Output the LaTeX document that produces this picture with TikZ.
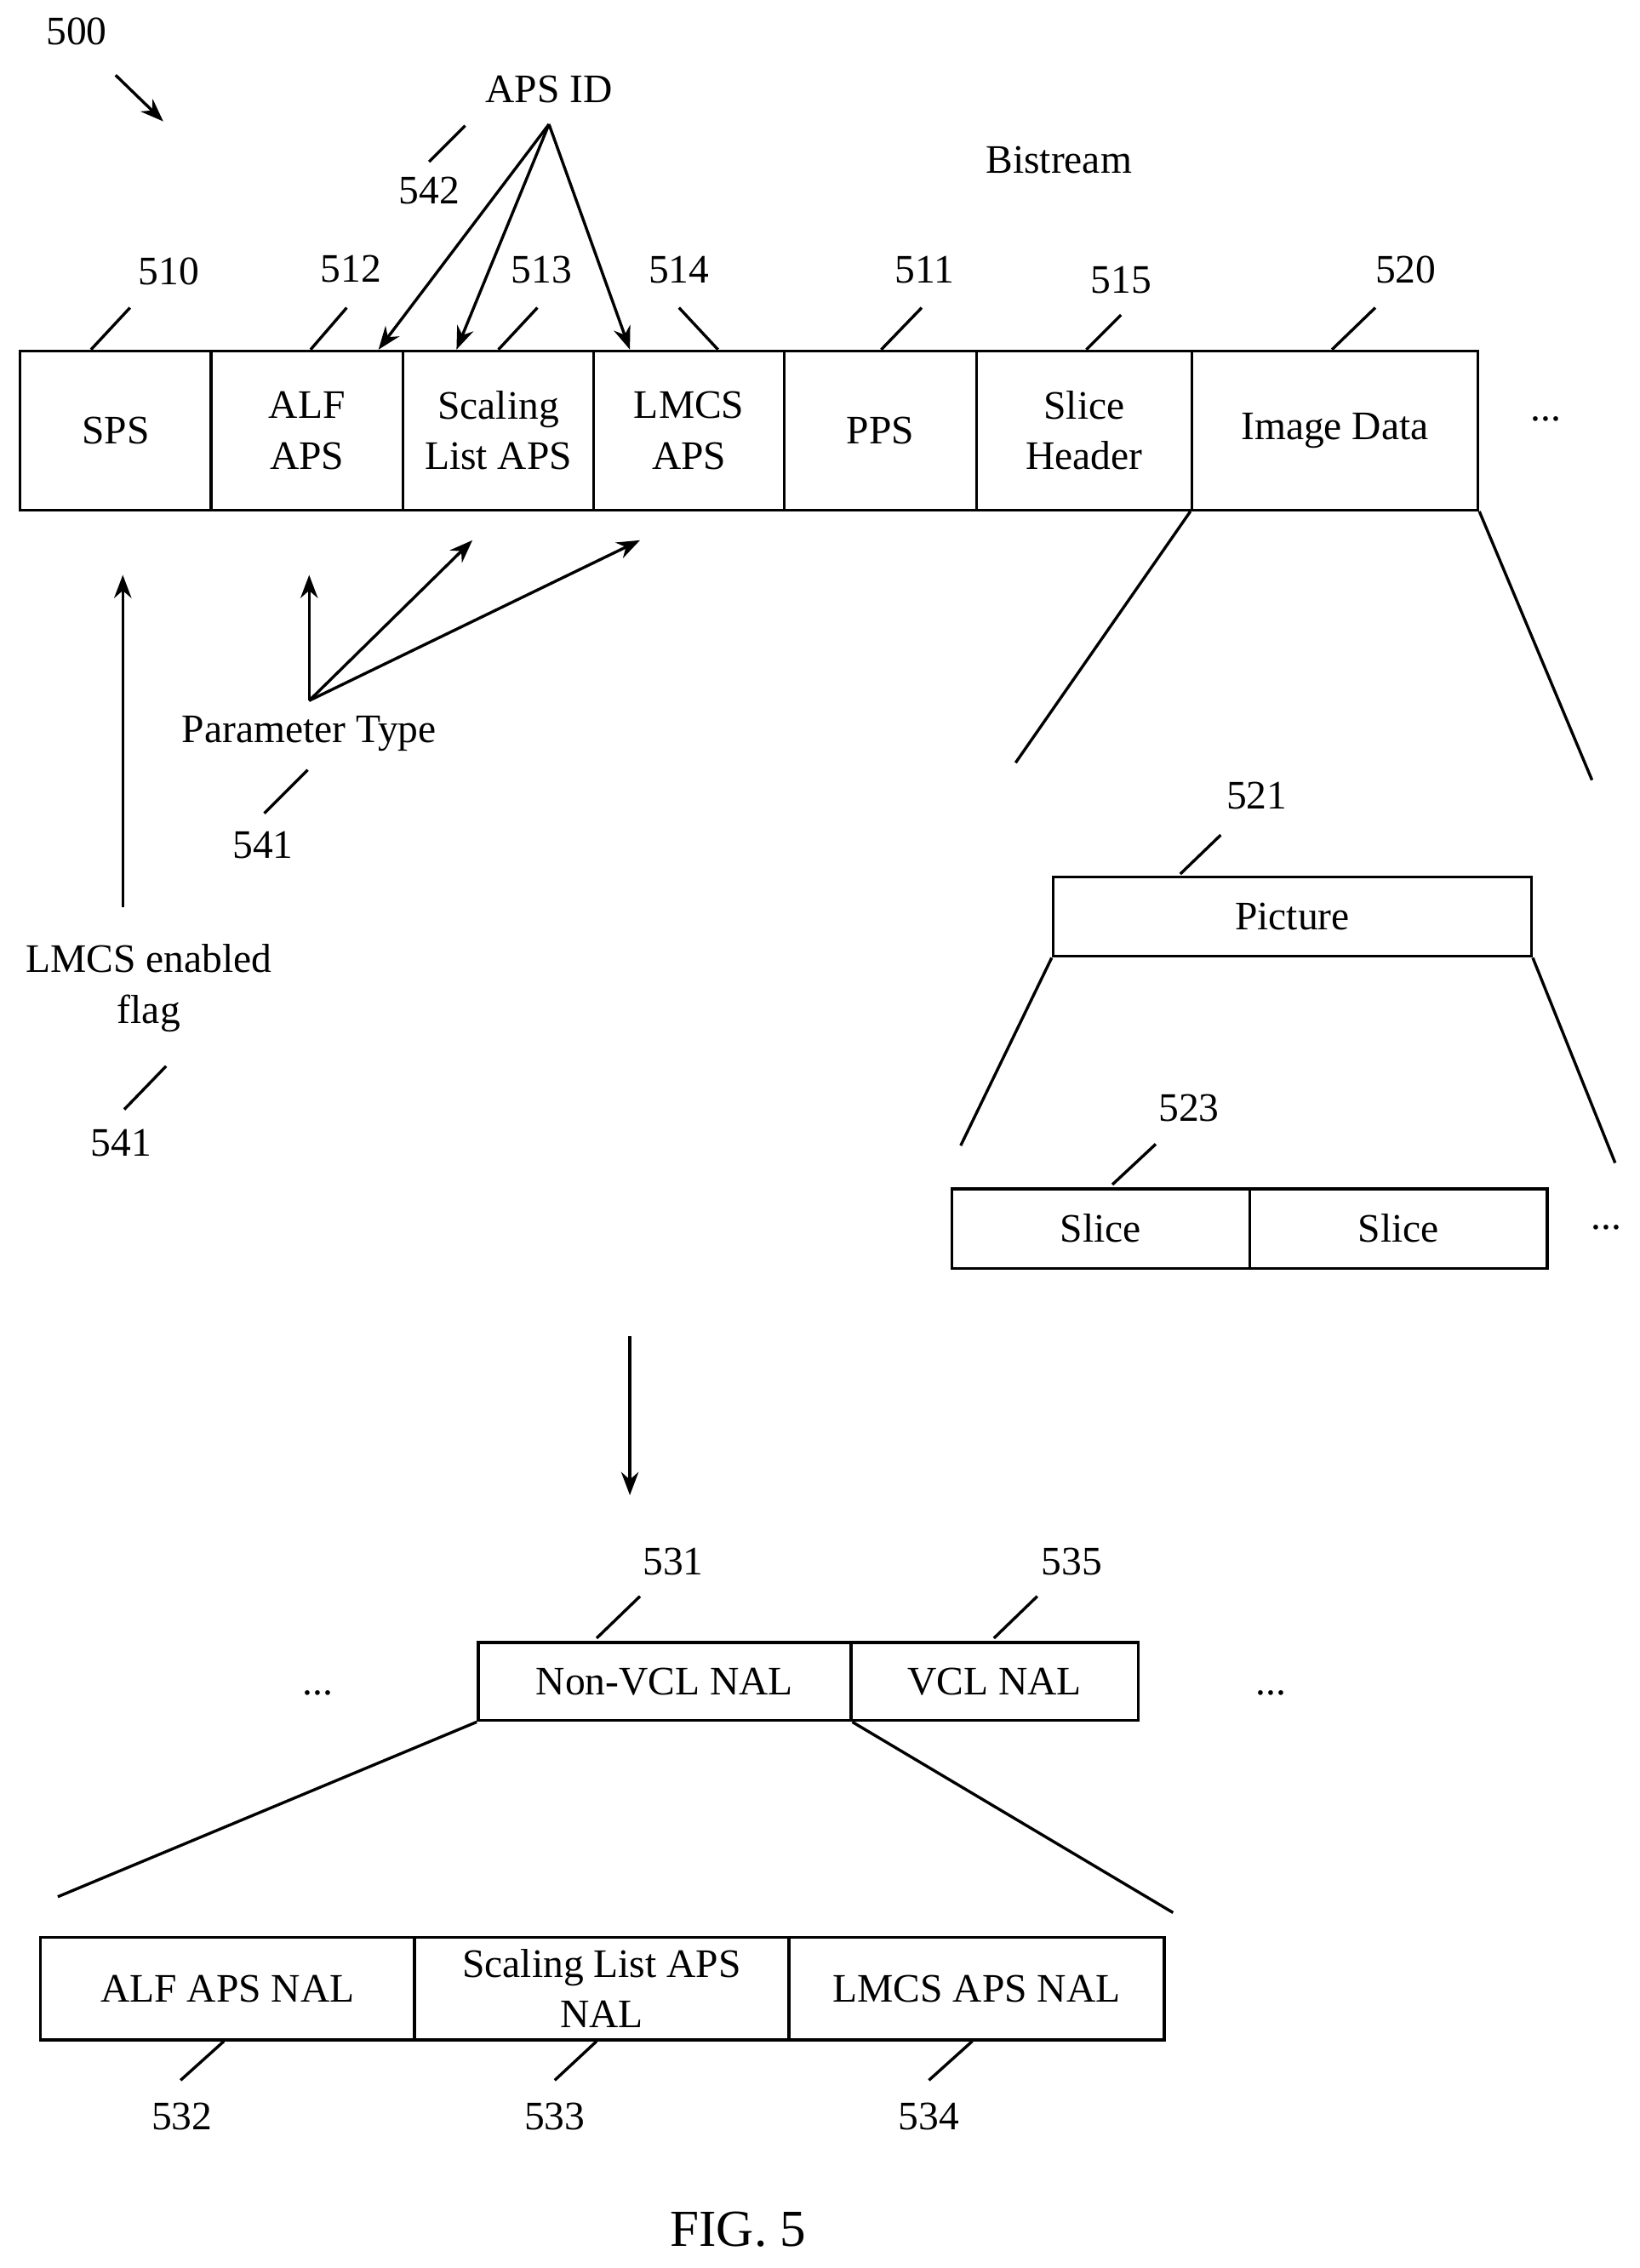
\documentclass[tikz,border=0pt]{standalone}
\usepackage{fontspec}
\setmainfont{Liberation Serif}
\usetikzlibrary{arrows.meta}
\begin{document}
\begin{tikzpicture}[x=1pt,y=-1pt,
 lw/.style={line width=2pt},
 bx/.style={draw,line width=2pt,inner sep=0pt,align=center,font=\fontsize{28}{35}\selectfont},
 tx/.style={inner sep=0pt,align=center,font=\fontsize{28}{35}\selectfont},
 ar/.style={lw,-{Stealth[length=16pt,width=12pt]}}]
\useasboundingbox (0,0) rectangle (1135,1570);
% top row
\foreach \n/\a/\b/\t in {sps/13/145/SPS, alf/145/278/ALF\\APS, scl/278/410/Scaling\\List APS, lmcs/410/542/LMCS\\APS, pps/542/675/PPS, sh/675/824/Slice\\Header, img/824/1022/Image Data}
  \node[bx,minimum width={\b-\a},minimum height=110,anchor=north west] (\n) at (\a,242) {\t};
\node[tx] (n510) at (117,188) {510}; \draw[lw] (63,242) -- (90,213);
\node[tx] (n512) at (243,186) {512}; \draw[lw] (215,242) -- (240,213);
\node[tx] (n513) at (375,187) {513}; \draw[lw] (345,242) -- (372,213);
\node[tx] (n514) at (470,187) {514}; \draw[lw] (470,213) -- (497,242);
\node[tx] (n511) at (640,187) {511}; \draw[lw] (610,242) -- (638,213);
\node[tx] (n515) at (776,194) {515}; \draw[lw] (752,242) -- (776,218);
\node[tx] (n520) at (973,187) {520}; \draw[lw] (922,242) -- (952,213);
\node[tx] (dots1) at (1070,290) {...};
\node[tx] (bs) at (733,111) {Bistream};
\node[tx] (n500) at (53,22) {500};
\coordinate (a500s) at (80,52); \coordinate (a500e) at (113,84);
\draw[ar] (a500s) -- (a500e);
% APS ID
\node[tx] (apsid) at (380,62) {APS ID};
\coordinate (ai) at (380,86);
\draw[ar] (ai) -- (262,242);
\draw[ar] (ai) -- (316,242);
\draw[ar] (ai) -- (436,242);
\node[tx] (n542) at (297,132) {542}; \draw[lw] (297,112) -- (322,87);
% parameter type
\node[tx] (pt) at (214,508) {Parameter Type};
\coordinate (po) at (214,485);
\draw[ar] (po) -- (214,398);
\draw[ar] (po) -- (327,374);
\draw[ar] (po) -- (443,374);
\node[tx] (n541a) at (182,585) {541}; \draw[lw] (183,563) -- (213,533);
% LMCS flag
\node[tx] (flag) at (103,684) {LMCS enabled\\flag};
\draw[ar] (85,628) -- (85,398);
\node[tx] (n541b) at (84,791) {541}; \draw[lw] (86,768) -- (115,738);
% picture
\draw[lw] (img.south west) -- (703,528);
\draw[lw] (img.south east) -- (1102,540);
\node[bx,minimum width=331,minimum height=55,anchor=north west] (pic) at (728,606) {Picture};
\node[tx] (n521) at (870,551) {521}; \draw[lw] (817,605) -- (845,578);
\draw[lw] (pic.south west) -- (665,793);
\draw[lw] (pic.south east) -- (1118,805);
\node[bx,minimum width=206,minimum height=55,anchor=north west] (s1) at (658,822) {Slice};
\node[bx,minimum width=206,minimum height=55,anchor=north west] (s2) at (864,822) {Slice};
\node[tx] (n523) at (823,767) {523}; \draw[lw] (770,820) -- (800,792);
\node[tx] (dots2) at (1112,850) {...};
% down arrow
\draw[ar] (436,925) -- (436,1035);
% NAL
\node[bx,minimum width=258,minimum height=54,anchor=north west] (nv) at (330,1136) {Non-VCL NAL};
\node[bx,minimum width=199,minimum height=54,anchor=north west] (vcl) at (588,1136) {VCL NAL};
\node[tx] (n531) at (466,1081) {531}; \draw[lw] (413,1134) -- (443,1105);
\node[tx] (n535) at (742,1081) {535}; \draw[lw] (688,1134) -- (718,1105);
\node[tx] (dots3) at (220,1172) {...};
\node[tx] (dots4) at (880,1172) {...};
\draw[lw] (nv.south west) -- (40,1313);
\draw[lw] (nv.south east) -- (812,1324);
\node[bx,minimum width=259,minimum height=71,anchor=north west] (b1) at (27,1340) {ALF APS NAL};
\node[bx,minimum width=259,minimum height=71,anchor=north west] (b2) at (286,1340) {Scaling List APS\\NAL};
\node[bx,minimum width=260,minimum height=71,anchor=north west] (b3) at (545,1340) {LMCS APS NAL};
\node[tx] (n532) at (126,1465) {532}; \draw[lw] (125,1440) -- (155,1413);
\node[tx] (n533) at (384,1465) {533}; \draw[lw] (384,1440) -- (413,1413);
\node[tx] (n534) at (643,1465) {534}; \draw[lw] (643,1440) -- (673,1413);
\node[inner sep=0pt,font=\fontsize{36}{40}\selectfont] (fig) at (511,1543) {FIG. 5};
\end{tikzpicture}
\end{document}
